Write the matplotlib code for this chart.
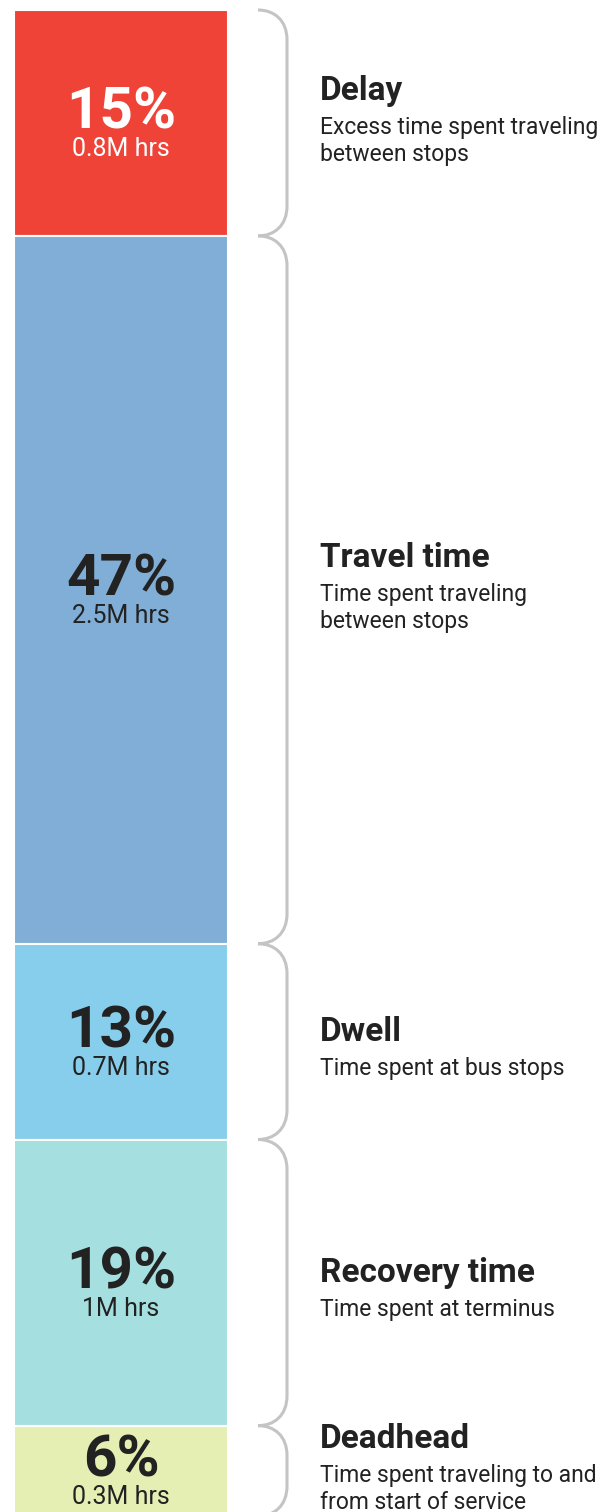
import matplotlib
matplotlib.use("Agg")
import matplotlib.pyplot as plt
from matplotlib.path import Path
from matplotlib.patches import PathPatch
import numpy as np

# Data
categories = ["Delay", "Travel time", "Dwell", "Recovery time", "Deadhead"]
shares = [15, 47, 13, 19, 6]
hours = ["0.8M hrs", "2.5M hrs", "0.7M hrs", "1M hrs", "0.3M hrs"]
descriptions = [
    "Excess time spent traveling\nbetween stops",
    "Time spent traveling\nbetween stops",
    "Time spent at bus stops",
    "Time spent at terminus",
    "Time spent traveling to and\nfrom start of service",
]
colors = ["#EF4338", "#80AED6", "#86CEEB", "#A6DFDF", "#E5EFB3"]
pct_colors = ["white", "#222222", "#222222", "#222222", "#222222"]

W, H = 607, 1512
PX = 15.06          # pixels per percentage point
TOP = 10            # pixel offset of the top of the bar
FONT = "Roboto"

fig = plt.figure(figsize=(W / 100, H / 100), dpi=100)
ax = fig.add_axes([0, 0, 1, 1])
ax.set_xlim(0, W)
ax.set_ylim((H - TOP) / PX, -TOP / PX)
ax.axis("off")

bottoms = np.concatenate([[0], np.cumsum(shares)[:-1]])
ax.bar(121, shares, bottom=bottoms, width=214, color=colors,
       edgecolor="white", linewidth=1.5, align="center")

def px(v):
    return v / PX

for i, (cat, s, b) in enumerate(zip(categories, shares, bottoms)):
    mid = b + s / 2
    # big percentage, baseline a little above the segment centre
    ax.text(121, mid + px(6), f"{s}%", ha="center", va="baseline",
            fontsize=42, fontweight="bold", color=pct_colors[i], family=FONT)
    ax.text(121, mid + px(33), hours[i], ha="center", va="baseline",
            fontsize=18, color=pct_colors[i], family=FONT)

    # brace
    y0, y1 = b, b + s
    r = px(30)
    verts = [(258, y0), (274, y0), (287, y0 + px(10)), (287, y0 + r),
             (287, y1 - r),
             (287, y1 - px(10)), (274, y1), (258, y1)]
    codes = [Path.MOVETO, Path.CURVE4, Path.CURVE4, Path.CURVE4,
             Path.LINETO, Path.CURVE4, Path.CURVE4, Path.CURVE4]
    ax.add_patch(PathPatch(Path(verts, codes), fill=False,
                           edgecolor="#C4C4C4", linewidth=2.2))

    nlines = descriptions[i].count("\n") + 1
    t_off = -32 if nlines == 2 else -10
    ax.text(320, mid + px(t_off), cat, ha="left", va="center",
            fontsize=24, fontweight="bold", color="#222222", family=FONT)
    ax.text(320, mid + px(t_off + 25), descriptions[i], ha="left", va="top",
            fontsize=16.5, color="#222222", family=FONT, linespacing=1.22)

fig.savefig("out.png", dpi=100)
